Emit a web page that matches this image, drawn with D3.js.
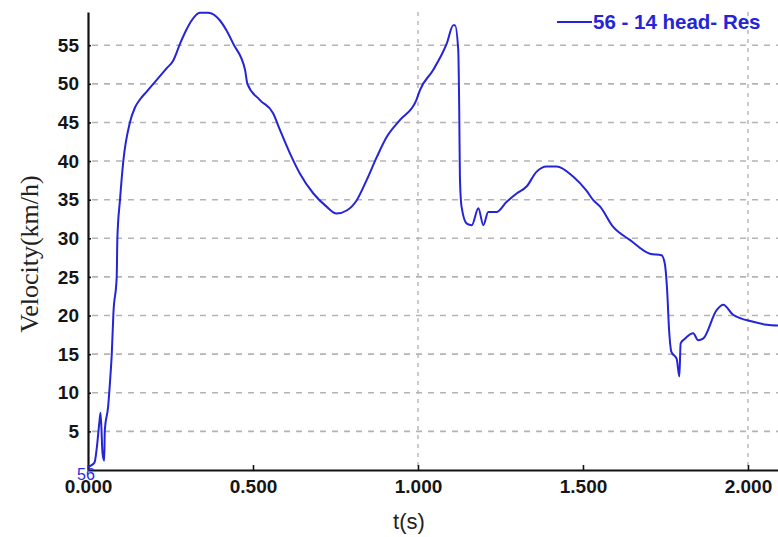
<!DOCTYPE html>
<html>
<head>
<meta charset="utf-8">
<script src="https://cdn.jsdelivr.net/npm/d3@7"></script>
<style>
  html, body { margin: 0; padding: 0; background: #fff; }
  svg { display: block; }
  .tick text { font-family: "Liberation Sans", Arial, sans-serif; font-weight: bold; fill: #151515; }
</style>
</head>
<body>
<div id="chart"></div>
<script>
// ── DATA ────────────────────────────────────────────────────────────────
const timeS = [
  0.000, 0.010, 0.020, 0.027, 0.034, 0.038, 0.044, 0.049, 0.051, 0.061,
  0.067, 0.072, 0.077, 0.087, 0.089, 0.097, 0.107, 0.127, 0.142, 0.158, 0.178,
  0.198, 0.238, 0.258, 0.279, 0.297, 0.314, 0.339, 0.364, 0.400, 0.420, 0.440,
  0.476, 0.483, 0.521, 0.561, 0.582, 0.612, 0.642, 0.683, 0.723, 0.753,
  0.784, 0.814, 0.844, 0.875, 0.905, 0.945, 0.995, 1.006, 1.046, 1.087,
  1.107, 1.112, 1.122, 1.125, 1.127, 1.132, 1.148, 1.163, 1.183, 1.198,
  1.213, 1.238, 1.268, 1.299, 1.329, 1.359, 1.390, 1.420, 1.470, 1.510,
  1.532, 1.552, 1.591, 1.642, 1.703, 1.738, 1.748, 1.755, 1.761, 1.768,
  1.784, 1.792, 1.796, 1.809, 1.834, 1.849, 1.864, 1.905, 1.925, 1.955,
  2.016, 2.057, 2.091
];
const velocityKmh = [
  0.4, 0.6, 1.0, 3.0, 6.0, 7.4, 2.2, 1.2, 5.2, 8.2,
  11.6, 15.0, 20.3, 25.0, 30.0, 35.0, 40.0, 45.0, 46.9, 48.0, 49.0,
  50.0, 52.0, 53.0, 55.2, 56.9, 58.2, 59.2, 59.2, 58.2, 56.9, 55.2,
  51.8, 50.0, 47.9, 46.2, 44.0, 41.0, 38.4, 35.8, 34.1, 33.2,
  33.6, 34.9, 37.5, 40.5, 43.1, 45.3, 47.9, 49.2, 51.8, 55.2,
  57.6, 57.6, 54.4, 46.6, 38.0, 34.1, 31.9, 31.7, 33.9, 31.7,
  33.4, 33.4, 34.7, 35.8, 36.7, 38.6, 39.3, 39.3, 38.0, 36.2,
  34.9, 34.1, 31.5, 29.8, 28.0, 27.8, 26.7, 23.3, 18.1, 15.3,
  14.4, 12.1, 16.4, 17.0, 17.7, 16.8, 17.0, 20.7, 21.4, 20.1,
  19.2, 18.8, 18.7
];
const xTicks = [0, 0.5, 1.0, 1.5, 2.0];
const xGridTicks = [1.0, 2.0];
const yTicks = [5, 10, 15, 20, 25, 30, 35, 40, 45, 50, 55];
const seriesName = "56 - 14 head- Res";
const startLabel = "56";

const width = 778, height = 537;
const plotLeft = 88, plotRight = 778, plotTop = 12, plotBottom = 470;

const svg = d3.select("#chart").append("svg")
  .attr("width", width)
  .attr("height", height);

const x = d3.scaleLinear().domain([0, 2.091]).range([plotLeft, plotRight]);
const y = d3.scaleLinear().domain([0, 59.3]).range([plotBottom, plotTop]);

// ── GRID ────────────────────────────────────────────────────────────────
svg.append("g")
  .selectAll("line")
  .data(yTicks)
  .join("line")
  .attr("x1", plotLeft + 4).attr("x2", plotRight)
  .attr("y1", d => y(d)).attr("y2", d => y(d))
  .attr("stroke", "#b4b4b4")
  .attr("stroke-width", 1.6)
  .attr("stroke-dasharray", "6,6");

svg.append("g")
  .selectAll("line")
  .data(xGridTicks)
  .join("line")
  .attr("x1", d => x(d)).attr("x2", d => x(d))
  .attr("y1", plotTop).attr("y2", plotBottom)
  .attr("stroke", "#b4b4b4")
  .attr("stroke-width", 1.4)
  .attr("stroke-dasharray", "4,5");

// ── AXES ────────────────────────────────────────────────────────────────
const xAxis = svg.append("g")
  .attr("transform", `translate(0,${plotBottom})`)
  .call(d3.axisBottom(x)
    .tickValues(xTicks)
    .tickFormat(d3.format(".3f"))
    .tickSizeInner(-5)
    .tickSizeOuter(0)
    .tickPadding(10));
xAxis.select(".domain").attr("stroke", "#111").attr("stroke-width", 2.2);
xAxis.selectAll(".tick line").attr("stroke", "#111").attr("stroke-width", 1.6);
xAxis.selectAll(".tick text").style("font-size", "19px");

const yAxis = svg.append("g")
  .attr("transform", `translate(${plotLeft},0)`)
  .call(d3.axisLeft(y)
    .tickValues(yTicks)
    .tickSizeInner(-3)
    .tickSizeOuter(0)
    .tickPadding(9));
yAxis.select(".domain").attr("stroke", "#111").attr("stroke-width", 2.2);
yAxis.selectAll(".tick line").attr("stroke", "#111").attr("stroke-width", 1.6);
yAxis.selectAll(".tick text").style("font-size", "19px");

// ── SERIES ──────────────────────────────────────────────────────────────
const points = timeS.map((t, i) => [t, velocityKmh[i]]);
svg.append("path")
  .datum(points)
  .attr("fill", "none")
  .attr("stroke", "#2424d8")
  .attr("stroke-width", 2)
  .attr("stroke-linejoin", "round")
  .attr("d", d3.line().curve(d3.curveMonotoneX).x(d => x(d[0])).y(d => y(d[1])));

// run label sits on the origin, over the first tick label, as in the source
svg.append("text")
  .attr("x", x(0) - 11)
  .attr("y", plotBottom + 10)
  .attr("font-family", "Liberation Sans, Arial, sans-serif")
  .attr("font-size", 16)
  .attr("fill", "#2a2ae0")
  .text(startLabel);

// ── LEGEND ──────────────────────────────────────────────────────────────
svg.append("line")
  .attr("x1", 557).attr("x2", 592)
  .attr("y1", 22).attr("y2", 22)
  .attr("stroke", "#2424d8").attr("stroke-width", 2);
svg.append("text")
  .attr("x", 593).attr("y", 29)
  .attr("font-family", "Liberation Sans, Arial, sans-serif")
  .attr("font-weight", "bold")
  .attr("font-size", 20.5)
  .attr("fill", "#2424d8")
  .text(seriesName);

// ── AXIS TITLES ─────────────────────────────────────────────────────────
svg.append("text")
  .attr("transform", "translate(38,254) rotate(-90)")
  .attr("text-anchor", "middle")
  .attr("font-family", "Liberation Serif, Times New Roman, serif")
  .attr("font-size", 26)
  .attr("fill", "#222")
  .text("Velocity(km/h)");

svg.append("text")
  .attr("x", 409).attr("y", 529)
  .attr("text-anchor", "middle")
  .attr("font-family", "Liberation Sans, Arial, sans-serif")
  .attr("font-size", 22)
  .attr("fill", "#222")
  .text("t(s)");
</script>
</body>
</html>
